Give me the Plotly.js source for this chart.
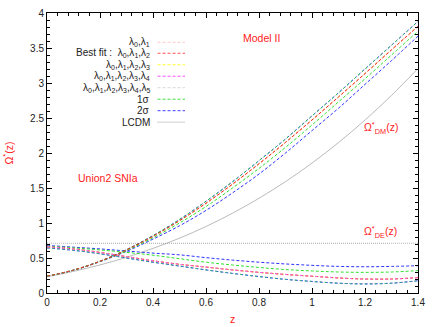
<!DOCTYPE html>
<html>
<head>
<meta charset="utf-8">
<script src="https://cdn.plot.ly/plotly-3.0.1.min.js"></script>
<style>
  html, body { margin: 0; padding: 0; background: #fff; }
  #chart { width: 436px; height: 327px; }
</style>
</head>
<body>
<div id="chart"></div>
<script>
// Redshift grid
const zGrid = [0, 0.1, 0.2, 0.3, 0.4, 0.5, 0.6, 0.7, 0.8, 0.9, 1.0, 1.1, 1.2, 1.3, 1.4];

// Omega*_DM(z)
const dmBest  = [0.24, 0.327, 0.453, 0.615, 0.81, 1.033, 1.282, 1.555, 1.846, 2.152, 2.472, 2.801, 3.135, 3.474, 3.81];
const dmUpper = [0.24, 0.327, 0.455, 0.62, 0.82, 1.05, 1.31, 1.59, 1.89, 2.20, 2.53, 2.86, 3.20, 3.54, 3.88];
const dm1sLow = [0.24, 0.326, 0.45, 0.605, 0.79, 1.00, 1.235, 1.50, 1.78, 2.08, 2.40, 2.73, 3.06, 3.40, 3.74];
const dm2sLow = [0.24, 0.325, 0.447, 0.595, 0.77, 0.96, 1.18, 1.43, 1.70, 2.00, 2.32, 2.64, 2.98, 3.32, 3.67];
const dmLcdm  = [0.232, 0.309, 0.401, 0.51, 0.637, 0.783, 0.95, 1.14, 1.353, 1.591, 1.856, 2.149, 2.47, 2.823, 3.206];

// Omega*_DE(z)
const deBest  = [0.66, 0.63, 0.58, 0.52, 0.46, 0.41, 0.37, 0.33, 0.295, 0.265, 0.24, 0.215, 0.2, 0.2, 0.22];
const de2sUp  = [0.68, 0.655, 0.63, 0.6, 0.57, 0.545, 0.505, 0.47, 0.44, 0.415, 0.395, 0.38, 0.375, 0.38, 0.39];
const de1sUp  = [0.67, 0.645, 0.615, 0.58, 0.54, 0.49, 0.44, 0.40, 0.365, 0.335, 0.315, 0.30, 0.295, 0.30, 0.32];
const deLower = [0.645, 0.61, 0.56, 0.5, 0.44, 0.385, 0.33, 0.28, 0.235, 0.195, 0.165, 0.14, 0.13, 0.14, 0.175];
const deLcdm  = [0.71, 0.71, 0.71, 0.71, 0.71, 0.71, 0.71, 0.71, 0.71, 0.71, 0.71, 0.71, 0.71, 0.71, 0.71];

// The other parametrisations sit on top of the best fit in the figure
const dmOthers = dmBest;
const deOthers = deBest;

// Legend entries (gnuplot style: label, then sample line)
const legendLabels = [
    'λ<sub>0</sub>,λ<sub>1</sub>',
    'Best fit :  λ<sub>0</sub>,λ<sub>1</sub>,λ<sub>2</sub>',
    'λ<sub>0</sub>,λ<sub>1</sub>,λ<sub>2</sub>,λ<sub>3</sub>',
    'λ<sub>0</sub>,λ<sub>1</sub>,λ<sub>2</sub>,λ<sub>3</sub>,λ<sub>4</sub>',
    'λ<sub>0</sub>,λ<sub>1</sub>,λ<sub>2</sub>,λ<sub>3</sub>,λ<sub>4</sub>,λ<sub>5</sub>',
    '1σ',
    '2σ',
    'LCDM',
];
const legendColors = ['#ffc8c8', '#ff5050', '#ffff30', '#ff50ff', '#d8d8d8', '#40e040', '#4040ff', '#a0a0a0'];
const legendDash = ['3px,2px', '3px,2px', '3px,2px', '3px,2px', '3px,2px', '3px,2px', '3px,2px', '1px,1px'];

const DASH = '3px,2px';

function curve(y, color, dash, width) {
    return {
        x: zGrid,
        y: y,
        type: 'scatter',
        mode: 'lines',
        line: { color: color, width: width || 1, dash: dash || DASH, shape: 'spline' },
        hoverinfo: 'skip',
        showlegend: false,
    };
}

const traces = [
    // LCDM reference
    curve(deLcdm, '#a8a8a8', '1px,1px'),
    curve(dmLcdm, '#a8a8a8', 'solid', 0.8),
    // extra parametrisations hidden under the best fit
    curve(dmOthers, legendColors[0]),
    curve(deOthers, legendColors[0]),
    curve(dmOthers, legendColors[2]),
    curve(deOthers, legendColors[2]),
    curve(dmOthers, legendColors[4]),
    curve(deOthers, legendColors[4]),
    // 2 sigma band
    curve(dmUpper, '#3030ff'),
    curve(dm2sLow, '#3030ff'),
    curve(deLower, '#3030ff'),
    curve(de2sUp, '#3030ff'),
    // 1 sigma band
    curve(dmUpper, '#30e030', '2px,3px'),
    curve(dm1sLow, '#30e030'),
    curve(deLower, '#30c070', '2px,3px'),
    curve(de1sUp, '#30e030'),
    // best fit
    curve(dmBest, '#ff2020'),
    curve(deBest, '#ff4040'),
    curve(deOthers, '#ff60ff', '2px,3px'),
];

// Plot area in pixels -> paper coordinates helper for the legend block
const plotTop = 12.7, plotBottom = 293;
const legendRowsPx = [42, 53, 64.5, 76, 87.5, 99, 110.5, 122];
const toPaperY = py => (plotBottom - py) / (plotBottom - plotTop);

const annotations = [];
const shapes = [];
legendLabels.forEach((label, i) => {
    const yp = toPaperY(legendRowsPx[i]);
    annotations.push({
        xref: 'paper', yref: 'paper',
        x: 0.283, y: yp,
        xanchor: 'right', yanchor: 'middle',
        text: label,
        showarrow: false,
        font: { size: 10, color: '#222' },
    });
    shapes.push({
        type: 'line',
        xref: 'paper', yref: 'paper',
        x0: 0.298, x1: 0.372, y0: yp, y1: yp,
        line: { color: legendColors[i], width: 1, dash: legendDash[i] },
    });
});

// Red labels inside the plot
annotations.push(
    { x: 0.81, y: 3.64, xref: 'x', yref: 'y', text: 'Model II', showarrow: false,
      font: { size: 10.5, color: '#ff2020' } },
    { x: 0.23, y: 1.64, xref: 'x', yref: 'y', text: 'Union2 SNIa', showarrow: false,
      font: { size: 10.5, color: '#ff2020' } },
    { x: 1.26, y: 2.36, xref: 'x', yref: 'y', text: 'Ω<sup>*</sup><sub>DM</sub>(z)', showarrow: false,
      font: { size: 10.5, color: '#ff2020' } },
    { x: 1.26, y: 0.87, xref: 'x', yref: 'y', text: 'Ω<sup>*</sup><sub>DE</sub>(z)', showarrow: false,
      font: { size: 10.5, color: '#ff2020' } }
);

const axisCommon = {
    showline: true,
    linecolor: '#000',
    linewidth: 1,
    mirror: 'ticks',
    ticks: 'inside',
    ticklen: 5,
    tickcolor: '#000',
    showgrid: false,
    zeroline: false,
    tickfont: { size: 10, color: '#222' },
};

const layout = {
    width: 436,
    height: 327,
    margin: { l: 47, r: 18, t: 13, b: 34 },
    paper_bgcolor: '#fff',
    plot_bgcolor: '#fff',
    font: { family: "'Liberation Sans', Arial, sans-serif", color: '#222' },
    showlegend: false,
    xaxis: Object.assign({}, axisCommon, {
        range: [0, 1.4],
        tickvals: [0, 0.2, 0.4, 0.6, 0.8, 1, 1.2, 1.4],
        ticktext: ['0', '0.2', '0.4', '0.6', '0.8', '1', '1.2', '1.4'],
        minor: { ticks: 'inside', dtick: 0.04, ticklen: 3, tickcolor: '#000' },
        title: { text: 'z', font: { size: 10.5, color: '#ff2020' }, standoff: 8 },
    }),
    yaxis: Object.assign({}, axisCommon, {
        range: [0, 4],
        tickvals: [0, 0.5, 1, 1.5, 2, 2.5, 3, 3.5, 4],
        ticktext: ['0', '0.5', '1', '1.5', '2', '2.5', '3', '3.5', '4'],
        minor: { ticks: 'inside', dtick: 0.1, ticklen: 3, tickcolor: '#000' },
        title: { text: 'Ω<sup>*</sup>(z)', font: { size: 10.5, color: '#ff2020' }, standoff: 14 },
    }),
    annotations: annotations,
    shapes: shapes,
};

Plotly.newPlot('chart', traces, layout, { displayModeBar: false, staticPlot: true });
</script>
</body>
</html>
